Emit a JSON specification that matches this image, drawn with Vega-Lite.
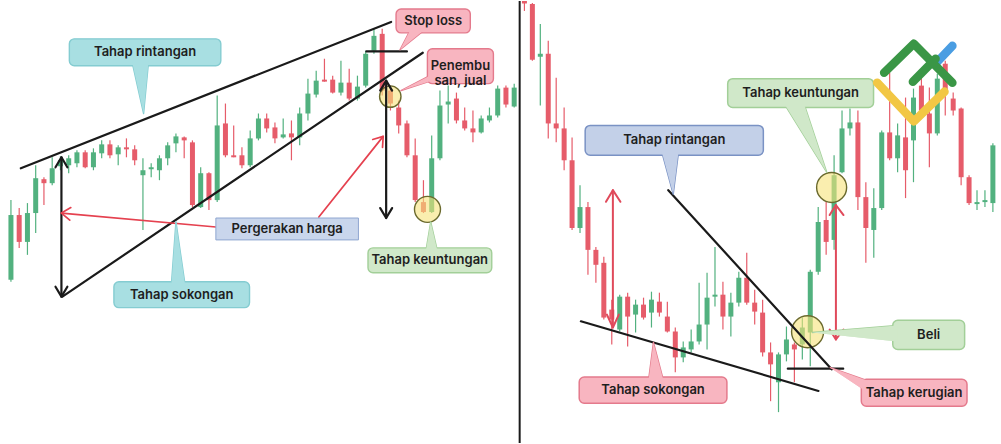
{
  "$schema": "https://vega.github.io/schema/vega-lite/v6.json",
  "width": 1001,
  "height": 444,
  "autosize": {"type": "fit", "contains": "padding"},
  "padding": 0,
  "background": "white",
  "config": {"view": {"stroke": null}, "font": "Inter"},
  "datasets": {
    "L_candles": [
      {"t":0,"open":164,"high":244,"low":162,"close":229},
      {"t":1,"open":229,"high":236,"low":196,"close":202},
      {"t":2,"open":202,"high":241,"low":189,"close":231},
      {"t":3,"open":231,"high":279,"low":211,"close":266},
      {"t":4,"open":265,"high":267,"low":239,"close":261},
      {"t":5,"open":261,"high":287,"low":259,"close":276},
      {"t":6,"open":278,"high":288,"low":274,"close":284},
      {"t":7,"open":279,"high":289,"low":271,"close":286},
      {"t":8,"open":281,"high":294,"low":277,"close":292},
      {"t":9,"open":292,"high":294,"low":276,"close":277},
      {"t":10,"open":277,"high":296,"low":274,"close":292},
      {"t":11,"open":291,"high":304,"low":286,"close":300},
      {"t":12,"open":300,"high":304,"low":286,"close":289},
      {"t":13,"open":290,"high":299,"low":279,"close":297},
      {"t":14,"open":297,"high":306,"low":287,"close":295},
      {"t":15,"open":295,"high":299,"low":279,"close":284},
      {"t":16,"open":269,"high":286,"low":214,"close":274},
      {"t":17,"open":275,"high":281,"low":267,"close":277},
      {"t":18,"open":274,"high":289,"low":264,"close":286},
      {"t":19,"open":286,"high":302,"low":279,"close":299},
      {"t":20,"open":301,"high":311,"low":292,"close":308},
      {"t":21,"open":307,"high":308,"low":286,"close":304},
      {"t":22,"open":302,"high":304,"low":237,"close":239},
      {"t":23,"open":237,"high":277,"low":236,"close":271},
      {"t":24,"open":271,"high":272,"low":234,"close":244},
      {"t":25,"open":244,"high":349,"low":242,"close":319},
      {"t":26,"open":321,"high":341,"low":287,"close":289},
      {"t":27,"open":289,"high":319,"low":287,"close":287},
      {"t":28,"open":289,"high":297,"low":276,"close":279},
      {"t":29,"open":279,"high":314,"low":277,"close":306},
      {"t":30,"open":306,"high":331,"low":304,"close":326},
      {"t":31,"open":326,"high":331,"low":312,"close":316},
      {"t":32,"open":317,"high":322,"low":301,"close":306},
      {"t":33,"open":307,"high":326,"low":306,"close":310},
      {"t":34,"open":311,"high":324,"low":284,"close":307},
      {"t":35,"open":307,"high":337,"low":299,"close":331},
      {"t":36,"open":331,"high":366,"low":324,"close":351},
      {"t":37,"open":350,"high":374,"low":347,"close":364},
      {"t":38,"open":365,"high":386,"low":363,"close":363},
      {"t":39,"open":365,"high":369,"low":351,"close":352},
      {"t":40,"open":352,"high":384,"low":349,"close":362},
      {"t":41,"open":362,"high":376,"low":344,"close":346},
      {"t":42,"open":346,"high":369,"low":344,"close":358},
      {"t":43,"open":359,"high":394,"low":357,"close":391},
      {"t":44,"open":394,"high":417,"low":391,"close":409},
      {"t":45,"open":411,"high":416,"low":349,"close":354},
      {"t":46,"open":354,"high":359,"low":334,"close":341},
      {"t":47,"open":337,"high":344,"low":311,"close":319},
      {"t":48,"open":321,"high":324,"low":287,"close":289},
      {"t":49,"open":289,"high":306,"low":242,"close":244},
      {"t":50,"open":242,"high":264,"low":231,"close":232},
      {"t":51,"open":232,"high":309,"low":231,"close":286},
      {"t":52,"open":286,"high":354,"low":284,"close":339},
      {"t":53,"open":340,"high":359,"low":321,"close":343},
      {"t":54,"open":346,"high":352,"low":321,"close":324},
      {"t":55,"open":324,"high":337,"low":314,"close":316},
      {"t":56,"open":316,"high":334,"low":302,"close":312},
      {"t":57,"open":312,"high":329,"low":311,"close":326},
      {"t":58,"open":324,"high":337,"low":322,"close":329},
      {"t":59,"open":329,"high":359,"low":327,"close":356},
      {"t":60,"open":357,"high":359,"low":337,"close":340},
      {"t":61,"open":338,"high":361,"low":337,"close":357}
    ],
    "R_candles": [
      {"t":-1,"open":444,"high":444,"low":434,"close":441.5},
      {"t":0,"open":441,"high":442,"low":384,"close":385},
      {"t":1,"open":388,"high":421,"low":339,"close":391},
      {"t":2,"open":391,"high":404,"low":306,"close":321},
      {"t":3,"open":321,"high":367,"low":302,"close":316},
      {"t":4,"open":316,"high":337,"low":274,"close":284},
      {"t":5,"open":284,"high":307,"low":214,"close":216},
      {"t":6,"open":216,"high":259,"low":211,"close":237},
      {"t":7,"open":237,"high":242,"low":169,"close":194},
      {"t":8,"open":194,"high":197,"low":161,"close":179},
      {"t":9,"open":181,"high":187,"low":124,"close":126},
      {"t":10,"open":134,"high":144,"low":99,"close":124},
      {"t":11,"open":114,"high":149,"low":112,"close":147},
      {"t":12,"open":147,"high":151,"low":97,"close":127},
      {"t":13,"open":129,"high":144,"low":111,"close":139},
      {"t":14,"open":139,"high":146,"low":124,"close":126},
      {"t":15,"open":131,"high":152,"low":116,"close":144},
      {"t":16,"open":142,"high":151,"low":127,"close":131},
      {"t":17,"open":127,"high":142,"low":111,"close":112},
      {"t":18,"open":112,"high":116,"low":71,"close":86},
      {"t":19,"open":86,"high":102,"low":81,"close":96},
      {"t":20,"open":94,"high":114,"low":91,"close":102},
      {"t":21,"open":102,"high":161,"low":99,"close":119},
      {"t":22,"open":119,"high":171,"low":94,"close":146},
      {"t":23,"open":147,"high":197,"low":137,"close":149},
      {"t":24,"open":149,"high":162,"low":114,"close":127},
      {"t":25,"open":127,"high":151,"low":107,"close":141},
      {"t":26,"open":141,"high":172,"low":137,"close":166},
      {"t":27,"open":166,"high":191,"low":139,"close":141},
      {"t":28,"open":141,"high":154,"low":119,"close":132},
      {"t":29,"open":131,"high":144,"low":87,"close":91},
      {"t":30,"open":91,"high":101,"low":42,"close":79},
      {"t":31,"open":61,"high":91,"low":31,"close":89},
      {"t":32,"open":89,"high":117,"low":82,"close":104},
      {"t":33,"open":99,"high":101,"low":61,"close":94},
      {"t":34,"open":99,"high":126,"low":84,"close":116},
      {"t":35,"open":111,"high":174,"low":77,"close":172},
      {"t":36,"open":172,"high":237,"low":169,"close":222},
      {"t":37,"open":224,"high":242,"low":189,"close":202},
      {"t":38,"open":204,"high":289,"low":194,"close":269},
      {"t":39,"open":272,"high":334,"low":271,"close":316},
      {"t":40,"open":316,"high":336,"low":309,"close":322},
      {"t":41,"open":322,"high":334,"low":234,"close":247},
      {"t":42,"open":247,"high":262,"low":181,"close":216},
      {"t":43,"open":214,"high":256,"low":186,"close":236},
      {"t":44,"open":236,"high":314,"low":234,"close":312},
      {"t":45,"open":312,"high":372,"low":284,"close":286},
      {"t":46,"open":286,"high":321,"low":272,"close":309},
      {"t":47,"open":307,"high":347,"low":246,"close":274},
      {"t":48,"open":304,"high":356,"low":262,"close":347},
      {"t":49,"open":359,"high":374,"low":330,"close":334},
      {"t":50,"open":331,"high":357,"low":277,"close":311},
      {"t":51,"open":311,"high":371,"low":309,"close":366},
      {"t":52,"open":381,"high":384,"low":329,"close":354},
      {"t":53,"open":346,"high":352,"low":329,"close":334},
      {"t":54,"open":336,"high":337,"low":259,"close":267},
      {"t":55,"open":267,"high":269,"low":239,"close":241},
      {"t":56,"open":240,"high":254,"low":234,"close":242},
      {"t":57,"open":242,"high":254,"low":237,"close":244},
      {"t":58,"open":241,"high":301,"low":232,"close":299}
    ],
    "L_black": [
      {"id":"res","seq":0,"t":1.2,"price":276},{"id":"res","seq":1,"t":46.08,"price":423},
      {"id":"sup","seq":0,"t":6.24,"price":147},{"id":"sup","seq":1,"t":49.92,"price":392},
      {"id":"stop","seq":0,"t":43.08,"price":393.3},{"id":"stop","seq":1,"t":48,"price":393.3},
      {"id":"a1","seq":0,"t":6.12,"price":287},{"id":"a1","seq":1,"t":6.12,"price":147},
      {"id":"a1t","seq":0,"t":5.4,"price":277},{"id":"a1t","seq":1,"t":6.12,"price":287},{"id":"a1t","seq":2,"t":6.84,"price":277},
      {"id":"a1b","seq":0,"t":5.4,"price":157},{"id":"a1b","seq":1,"t":6.12,"price":147},{"id":"a1b","seq":2,"t":6.84,"price":157},
      {"id":"a2","seq":0,"t":45.48,"price":364},{"id":"a2","seq":1,"t":45.48,"price":226},
      {"id":"a2t","seq":0,"t":44.76,"price":354},{"id":"a2t","seq":1,"t":45.48,"price":364},{"id":"a2t","seq":2,"t":46.2,"price":354},
      {"id":"a2b","seq":0,"t":44.76,"price":236},{"id":"a2b","seq":1,"t":45.48,"price":226},{"id":"a2b","seq":2,"t":46.2,"price":236}
    ],
    "L_red": [
      {"id":"r1","seq":0,"t":24.84,"price":217},{"id":"r1","seq":1,"t":6.12,"price":231},
      {"id":"r1h","seq":0,"t":7.13,"price":223.9},{"id":"r1h","seq":1,"t":6.12,"price":231},{"id":"r1h","seq":2,"t":7.26,"price":236.5},
      {"id":"r2","seq":0,"t":37.32,"price":227},{"id":"r2","seq":1,"t":45.12,"price":308},
      {"id":"r2h","seq":0,"t":43.85,"price":304.9},{"id":"r2h","seq":1,"t":45.12,"price":308},{"id":"r2h","seq":2,"t":45.04,"price":297}
    ],
    "L_boxes": [
      {"kind":"teal","t":7.08,"t2":25.44,"price":379,"price2":406},
      {"kind":"teal","t":12.48,"t2":28.92,"price":136,"price2":162},
      {"kind":"lblue","t":24.84,"t2":42.12,"price":204,"price2":226},
      {"kind":"pink","t":46.68,"t2":55.68,"price":412,"price2":436},
      {"kind":"pink","t":50.48,"t2":58.48,"price":361,"price2":396},
      {"kind":"green","t":43.28,"t2":58.28,"price":171,"price2":196}
    ],
    "L_tails": [
      {"id":"rint","kind":"teal","seq":0,"t":14.68,"price":383},{"id":"rint","kind":"teal","seq":1,"t":16.08,"price":331},{"id":"rint","kind":"teal","seq":2,"t":16.68,"price":383},
      {"id":"sok","kind":"teal","seq":0,"t":19.44,"price":158},{"id":"sok","kind":"teal","seq":1,"t":20.0,"price":222.3},{"id":"sok","kind":"teal","seq":2,"t":21.12,"price":158},
      {"id":"stop","kind":"pink","seq":0,"t":48.48,"price":416},{"id":"stop","kind":"pink","seq":1,"t":47.16,"price":395},{"id":"stop","kind":"pink","seq":2,"t":50.28,"price":416},
      {"id":"pen","kind":"pink","seq":0,"t":51.0,"price":370},{"id":"pen","kind":"pink","seq":1,"t":47.28,"price":354},{"id":"pen","kind":"pink","seq":2,"t":51.0,"price":364},
      {"id":"keu","kind":"green","seq":0,"t":50.28,"price":192},{"id":"keu","kind":"green","seq":1,"t":50.88,"price":222},{"id":"keu","kind":"green","seq":2,"t":51.72,"price":192}
    ],
    "L_texts": [
      {"label":"Tahap rintangan","t":16.26,"price":392.5},
      {"label":"Tahap sokongan","t":20.7,"price":149},
      {"label":"Pergerakan harga","t":33.48,"price":215},
      {"label":"Stop loss","t":51.18,"price":424},
      {"label":"Penembu\nsan, jual","t":54.48,"price":378.5},
      {"label":"Tahap keuntungan","t":50.76,"price":183.5}
    ],
    "L_rings": [
      {"id":"a","t":45.98,"price":348},
      {"id":"b","t":50.49,"price":234.7}
    ],
    "R_divider": [{"t":-1.6}],
    "R_black": [
      {"id":"res","seq":0,"t":17.12,"price":254},{"id":"res","seq":1,"t":37.69,"price":74},
      {"id":"sup","seq":0,"t":6.11,"price":122.3},{"id":"sup","seq":1,"t":36.03,"price":52.3},
      {"id":"ker","seq":0,"t":32.17,"price":74.7},{"id":"ker","seq":1,"t":39.15,"price":74.7}
    ],
    "R_red": [
      {"id":"A","seq":0,"t":10.14,"price":254},{"id":"A","seq":1,"t":10.14,"price":116},
      {"id":"At","seq":0,"t":9.27,"price":242.3},{"id":"At","seq":1,"t":10.14,"price":254},{"id":"At","seq":2,"t":11.09,"price":242.3},
      {"id":"Ab","seq":0,"t":9.39,"price":129},{"id":"Ab","seq":1,"t":10.14,"price":116},{"id":"Ab","seq":2,"t":10.89,"price":129},
      {"id":"B","seq":0,"t":38.23,"price":239},{"id":"B","seq":1,"t":38.23,"price":104},
      {"id":"Bt","seq":0,"t":37.44,"price":229},{"id":"Bt","seq":1,"t":38.23,"price":239},{"id":"Bt","seq":2,"t":39.19,"price":229},
      {"id":"Bb","seq":0,"t":37.44,"price":114},{"id":"Bb","seq":1,"t":38.23,"price":104},{"id":"Bb","seq":2,"t":39.19,"price":114}
    ],
    "R_boxes": [
      {"kind":"blue","t":6.65,"t2":29.09,"price":289,"price2":319},
      {"kind":"pink","t":5.9,"t2":24.5,"price":40,"price2":66.3},
      {"kind":"pink","t":41.43,"t2":54.74,"price":37,"price2":64},
      {"kind":"green","t":45.39,"t2":54.44,"price":94,"price2":123.3},
      {"kind":"green","t":24.6,"t2":42.97,"price":337,"price2":366}
    ],
    "R_tails": [
      {"id":"rint","kind":"blue","seq":0,"t":16.28,"price":293},{"id":"rint","kind":"blue","seq":1,"t":17.74,"price":250},{"id":"rint","kind":"blue","seq":2,"t":18.42,"price":293},
      {"id":"sok","kind":"pink","seq":0,"t":14.63,"price":63},{"id":"sok","kind":"pink","seq":1,"t":15.25,"price":101},{"id":"sok","kind":"pink","seq":2,"t":16.5,"price":63},
      {"id":"ker","kind":"pink","seq":0,"t":37.44,"price":76},{"id":"ker","kind":"pink","seq":1,"t":43.1,"price":60},{"id":"ker","kind":"pink","seq":2,"t":41.98,"price":52},
      {"id":"beli","kind":"green","seq":0,"t":35.22,"price":111},{"id":"beli","kind":"green","seq":1,"t":45.94,"price":118},{"id":"beli","kind":"green","seq":2,"t":45.94,"price":102},
      {"id":"keu","kind":"green","seq":0,"t":31.71,"price":341},{"id":"keu","kind":"green","seq":1,"t":37.07,"price":272},{"id":"keu","kind":"green","seq":2,"t":34.2,"price":341}
    ],
    "R_texts": [
      {"label":"Tahap rintangan","t":17.87,"price":304},
      {"label":"Tahap sokongan","t":15.2,"price":53},
      {"label":"Tahap kerugian","t":48.08,"price":50.5},
      {"label":"Beli","t":49.91,"price":108.7},
      {"label":"Tahap keuntungan","t":33.79,"price":351.5}
    ],
    "R_rings": [
      {"id":"c","t":37.69,"price":256.7},
      {"id":"d","t":34.66,"price":111.7}
    ],
    "R_logo": [
      {"id":"y","kind":"yellow","seq":0,"t":43.43,"price":362},{"id":"y","kind":"yellow","seq":1,"t":48.04,"price":323},{"id":"y","kind":"yellow","seq":2,"t":51.91,"price":353},
      {"id":"b","kind":"blue","seq":0,"t":51.03,"price":383},{"id":"b","kind":"blue","seq":1,"t":52.9,"price":399},
      {"id":"g1","kind":"green","seq":0,"t":44.3,"price":372},{"id":"g1","kind":"green","seq":1,"t":48.04,"price":401},{"id":"g1","kind":"green","seq":2,"t":52.9,"price":362},
      {"id":"g2","kind":"green","seq":0,"t":47.92,"price":363},{"id":"g2","kind":"green","seq":1,"t":50.78,"price":386}
    ]
  },
  "layer": [
    {
      "layer": [
        {
          "data": {"name": "L_candles"},
          "mark": {"type": "rule", "strokeWidth": 1.2},
          "encoding": {
            "x": {"field": "t", "type": "quantitative", "scale": {"domain": [-0.72, 119.4], "nice": false, "zero": false}, "axis": null},
            "y": {"field": "low", "type": "quantitative", "scale": {"domain": [0, 444], "nice": false, "zero": false}, "axis": null},
            "y2": {"field": "high"},
            "color": {"condition": {"test": "datum.close >= datum.open", "value": "#52b17f"}, "value": "#e65c6a"}
          }
        },
        {
          "data": {"name": "L_candles"},
          "mark": {"type": "bar", "size": 5},
          "encoding": {
            "x": {"field": "t", "type": "quantitative", "scale": {"domain": [-0.72, 119.4], "nice": false, "zero": false}, "axis": null},
            "y": {"field": "open", "type": "quantitative", "scale": {"domain": [0, 444], "nice": false, "zero": false}, "axis": null},
            "y2": {"field": "close"},
            "color": {"condition": {"test": "datum.close >= datum.open", "value": "#52b17f"}, "value": "#e65c6a"}
          }
        },
        {
          "data": {"name": "L_rings"},
          "mark": {"type": "point", "shape": "circle", "filled": true, "fill": "#f6e27a", "fillOpacity": 0.6, "stroke": "#6b6a2e", "strokeWidth": 1.4, "strokeOpacity": 1, "opacity": 1},
          "encoding": {
            "x": {"field": "t", "type": "quantitative", "scale": {"domain": [-0.72, 119.4], "nice": false, "zero": false}, "axis": null},
            "y": {"field": "price", "type": "quantitative", "scale": {"domain": [0, 444], "nice": false, "zero": false}, "axis": null},
            "size": {"field": "id", "type": "ordinal", "scale": {"domain": ["a", "b"], "range": [458, 676]}, "legend": null}
          }
        },
        {
          "data": {"name": "L_black"},
          "mark": {"type": "line", "stroke": "#1a1a1a", "strokeWidth": 2.2, "strokeCap": "round", "strokeJoin": "round"},
          "encoding": {
            "x": {"field": "t", "type": "quantitative", "scale": {"domain": [-0.72, 119.4], "nice": false, "zero": false}, "axis": null},
            "y": {"field": "price", "type": "quantitative", "scale": {"domain": [0, 444], "nice": false, "zero": false}, "axis": null},
            "detail": {"field": "id", "type": "nominal"},
            "order": {"field": "seq", "type": "quantitative"}
          }
        },
        {
          "data": {"name": "L_red"},
          "mark": {"type": "line", "stroke": "#e5414f", "strokeWidth": 1.7, "strokeCap": "round", "strokeJoin": "round"},
          "encoding": {
            "x": {"field": "t", "type": "quantitative", "scale": {"domain": [-0.72, 119.4], "nice": false, "zero": false}, "axis": null},
            "y": {"field": "price", "type": "quantitative", "scale": {"domain": [0, 444], "nice": false, "zero": false}, "axis": null},
            "detail": {"field": "id", "type": "nominal"},
            "order": {"field": "seq", "type": "quantitative"}
          }
        },
        {
          "data": {"name": "L_tails"},
          "mark": {"type": "line", "strokeWidth": 1.4, "strokeJoin": "round", "fillOpacity": 1},
          "encoding": {
            "x": {"field": "t", "type": "quantitative", "scale": {"domain": [-0.72, 119.4], "nice": false, "zero": false}, "axis": null},
            "y": {"field": "price", "type": "quantitative", "scale": {"domain": [0, 444], "nice": false, "zero": false}, "axis": null},
            "detail": {"field": "id", "type": "nominal"},
            "order": {"field": "seq", "type": "quantitative"},
            "fill": {"field": "kind", "type": "nominal", "scale": {"domain": ["teal", "lblue", "blue", "pink", "green"], "range": ["#a8dfe2", "#c9d6ec", "#c3d0e8", "#f8b5c0", "#d0e8c9"]}, "legend": null},
            "stroke": {"field": "kind", "type": "nominal", "scale": {"domain": ["teal", "lblue", "blue", "pink", "green"], "range": ["#84ccd1", "#8fa6d0", "#7a92c4", "#e47a8c", "#a2cf98"]}, "legend": null}
          }
        },
        {
          "data": {"name": "L_boxes"},
          "transform": [{"filter": "datum.kind !== 'lblue'"}],
          "mark": {"type": "rect", "cornerRadius": 5, "strokeWidth": 1.4},
          "encoding": {
            "x": {"field": "t", "type": "quantitative", "scale": {"domain": [-0.72, 119.4], "nice": false, "zero": false}, "axis": null},
            "x2": {"field": "t2"},
            "y": {"field": "price", "type": "quantitative", "scale": {"domain": [0, 444], "nice": false, "zero": false}, "axis": null},
            "y2": {"field": "price2"},
            "fill": {"field": "kind", "type": "nominal", "scale": {"domain": ["teal", "lblue", "blue", "pink", "green"], "range": ["#a8dfe2", "#c9d6ec", "#c3d0e8", "#f8b5c0", "#d0e8c9"]}, "legend": null},
            "stroke": {"field": "kind", "type": "nominal", "scale": {"domain": ["teal", "lblue", "blue", "pink", "green"], "range": ["#84ccd1", "#8fa6d0", "#7a92c4", "#e47a8c", "#a2cf98"]}, "legend": null}
          }
        },
        {
          "data": {"name": "L_boxes"},
          "transform": [{"filter": "datum.kind === 'lblue'"}],
          "mark": {"type": "rect", "cornerRadius": 0, "strokeWidth": 1},
          "encoding": {
            "x": {"field": "t", "type": "quantitative", "scale": {"domain": [-0.72, 119.4], "nice": false, "zero": false}, "axis": null},
            "x2": {"field": "t2"},
            "y": {"field": "price", "type": "quantitative", "scale": {"domain": [0, 444], "nice": false, "zero": false}, "axis": null},
            "y2": {"field": "price2"},
            "fill": {"field": "kind", "type": "nominal", "scale": {"domain": ["teal", "lblue", "blue", "pink", "green"], "range": ["#a8dfe2", "#c9d6ec", "#c3d0e8", "#f8b5c0", "#d0e8c9"]}, "legend": null},
            "stroke": {"field": "kind", "type": "nominal", "scale": {"domain": ["teal", "lblue", "blue", "pink", "green"], "range": ["#84ccd1", "#8fa6d0", "#7a92c4", "#e47a8c", "#a2cf98"]}, "legend": null}
          }
        },
        {
          "data": {"name": "L_tails"},
          "mark": {"type": "line", "stroke": "transparent", "strokeWidth": 0, "fillOpacity": 1},
          "encoding": {
            "x": {"field": "t", "type": "quantitative", "scale": {"domain": [-0.72, 119.4], "nice": false, "zero": false}, "axis": null},
            "y": {"field": "price", "type": "quantitative", "scale": {"domain": [0, 444], "nice": false, "zero": false}, "axis": null},
            "detail": {"field": "id", "type": "nominal"},
            "order": {"field": "seq", "type": "quantitative"},
            "fill": {"field": "kind", "type": "nominal", "scale": {"domain": ["teal", "lblue", "blue", "pink", "green"], "range": ["#a8dfe2", "#c9d6ec", "#c3d0e8", "#f8b5c0", "#d0e8c9"]}, "legend": null}
          }
        },
        {
          "data": {"name": "L_texts"},
          "mark": {"type": "text", "font": "Inter", "fontSize": 13, "fontWeight": 600, "color": "#1e1e1e", "align": "center", "baseline": "middle", "lineBreak": "\n", "lineHeight": 15},
          "encoding": {
            "x": {"field": "t", "type": "quantitative", "scale": {"domain": [-0.72, 119.4], "nice": false, "zero": false}, "axis": null},
            "y": {"field": "price", "type": "quantitative", "scale": {"domain": [0, 444], "nice": false, "zero": false}, "axis": null},
            "text": {"field": "label", "type": "nominal"}
          }
        }
      ]
    },
    {
      "layer": [
        {
          "data": {"name": "R_candles"},
          "mark": {"type": "rule", "strokeWidth": 1.2},
          "encoding": {
            "x": {"field": "t", "type": "quantitative", "scale": {"domain": [-66.42, 58.392], "nice": false, "zero": false}, "axis": null},
            "y": {"field": "low", "type": "quantitative", "scale": {"domain": [0, 444], "nice": false, "zero": false}, "axis": null},
            "y2": {"field": "high"},
            "color": {"condition": {"test": "datum.close >= datum.open", "value": "#52b17f"}, "value": "#e65c6a"}
          }
        },
        {
          "data": {"name": "R_candles"},
          "mark": {"type": "bar", "size": 5},
          "encoding": {
            "x": {"field": "t", "type": "quantitative", "scale": {"domain": [-66.42, 58.392], "nice": false, "zero": false}, "axis": null},
            "y": {"field": "open", "type": "quantitative", "scale": {"domain": [0, 444], "nice": false, "zero": false}, "axis": null},
            "y2": {"field": "close"},
            "color": {"condition": {"test": "datum.close >= datum.open", "value": "#52b17f"}, "value": "#e65c6a"}
          }
        },
        {
          "data": {"name": "R_rings"},
          "mark": {"type": "point", "shape": "circle", "filled": true, "fill": "#f6e27a", "fillOpacity": 0.6, "stroke": "#6b6a2e", "strokeWidth": 1.4, "strokeOpacity": 1, "opacity": 1},
          "encoding": {
            "x": {"field": "t", "type": "quantitative", "scale": {"domain": [-66.42, 58.392], "nice": false, "zero": false}, "axis": null},
            "y": {"field": "price", "type": "quantitative", "scale": {"domain": [0, 444], "nice": false, "zero": false}, "axis": null},
            "size": {"field": "id", "type": "ordinal", "scale": {"domain": ["c", "d"], "range": [900, 1024]}, "legend": null}
          }
        },
        {
          "data": {"name": "R_black"},
          "mark": {"type": "line", "stroke": "#1a1a1a", "strokeWidth": 2.2, "strokeCap": "round", "strokeJoin": "round"},
          "encoding": {
            "x": {"field": "t", "type": "quantitative", "scale": {"domain": [-66.42, 58.392], "nice": false, "zero": false}, "axis": null},
            "y": {"field": "price", "type": "quantitative", "scale": {"domain": [0, 444], "nice": false, "zero": false}, "axis": null},
            "detail": {"field": "id", "type": "nominal"},
            "order": {"field": "seq", "type": "quantitative"}
          }
        },
        {
          "data": {"name": "R_red"},
          "mark": {"type": "line", "stroke": "#e04a5b", "strokeWidth": 2, "strokeCap": "round", "strokeJoin": "round"},
          "encoding": {
            "x": {"field": "t", "type": "quantitative", "scale": {"domain": [-66.42, 58.392], "nice": false, "zero": false}, "axis": null},
            "y": {"field": "price", "type": "quantitative", "scale": {"domain": [0, 444], "nice": false, "zero": false}, "axis": null},
            "detail": {"field": "id", "type": "nominal"},
            "order": {"field": "seq", "type": "quantitative"}
          }
        },
        {
          "data": {"name": "R_tails"},
          "mark": {"type": "line", "strokeWidth": 1.4, "strokeJoin": "round", "fillOpacity": 1},
          "encoding": {
            "x": {"field": "t", "type": "quantitative", "scale": {"domain": [-66.42, 58.392], "nice": false, "zero": false}, "axis": null},
            "y": {"field": "price", "type": "quantitative", "scale": {"domain": [0, 444], "nice": false, "zero": false}, "axis": null},
            "detail": {"field": "id", "type": "nominal"},
            "order": {"field": "seq", "type": "quantitative"},
            "fill": {"field": "kind", "type": "nominal", "scale": {"domain": ["teal", "lblue", "blue", "pink", "green"], "range": ["#a8dfe2", "#c9d6ec", "#c3d0e8", "#f8b5c0", "#d0e8c9"]}, "legend": null},
            "stroke": {"field": "kind", "type": "nominal", "scale": {"domain": ["teal", "lblue", "blue", "pink", "green"], "range": ["#84ccd1", "#8fa6d0", "#7a92c4", "#e47a8c", "#a2cf98"]}, "legend": null}
          }
        },
        {
          "data": {"name": "R_boxes"},
          "mark": {"type": "rect", "cornerRadius": 5, "strokeWidth": 1.5},
          "encoding": {
            "x": {"field": "t", "type": "quantitative", "scale": {"domain": [-66.42, 58.392], "nice": false, "zero": false}, "axis": null},
            "x2": {"field": "t2"},
            "y": {"field": "price", "type": "quantitative", "scale": {"domain": [0, 444], "nice": false, "zero": false}, "axis": null},
            "y2": {"field": "price2"},
            "fill": {"field": "kind", "type": "nominal", "scale": {"domain": ["teal", "lblue", "blue", "pink", "green"], "range": ["#a8dfe2", "#c9d6ec", "#c3d0e8", "#f8b5c0", "#d0e8c9"]}, "legend": null},
            "stroke": {"field": "kind", "type": "nominal", "scale": {"domain": ["teal", "lblue", "blue", "pink", "green"], "range": ["#84ccd1", "#8fa6d0", "#7a92c4", "#e47a8c", "#a2cf98"]}, "legend": null}
          }
        },
        {
          "data": {"name": "R_tails"},
          "mark": {"type": "line", "stroke": "transparent", "strokeWidth": 0, "fillOpacity": 1},
          "encoding": {
            "x": {"field": "t", "type": "quantitative", "scale": {"domain": [-66.42, 58.392], "nice": false, "zero": false}, "axis": null},
            "y": {"field": "price", "type": "quantitative", "scale": {"domain": [0, 444], "nice": false, "zero": false}, "axis": null},
            "detail": {"field": "id", "type": "nominal"},
            "order": {"field": "seq", "type": "quantitative"},
            "fill": {"field": "kind", "type": "nominal", "scale": {"domain": ["teal", "lblue", "blue", "pink", "green"], "range": ["#a8dfe2", "#c9d6ec", "#c3d0e8", "#f8b5c0", "#d0e8c9"]}, "legend": null}
          }
        },
        {
          "data": {"name": "R_texts"},
          "mark": {"type": "text", "font": "Inter", "fontSize": 13, "fontWeight": 600, "color": "#1e1e1e", "align": "center", "baseline": "middle"},
          "encoding": {
            "x": {"field": "t", "type": "quantitative", "scale": {"domain": [-66.42, 58.392], "nice": false, "zero": false}, "axis": null},
            "y": {"field": "price", "type": "quantitative", "scale": {"domain": [0, 444], "nice": false, "zero": false}, "axis": null},
            "text": {"field": "label", "type": "nominal"}
          }
        },
        {
          "data": {"name": "R_logo"},
          "transform": [{"filter": "datum.kind === 'yellow'"}],
          "mark": {"type": "line", "stroke": "#f2c744", "strokeWidth": 8.5, "strokeCap": "round", "strokeJoin": "round"},
          "encoding": {
            "x": {"field": "t", "type": "quantitative", "scale": {"domain": [-66.42, 58.392], "nice": false, "zero": false}, "axis": null},
            "y": {"field": "price", "type": "quantitative", "scale": {"domain": [0, 444], "nice": false, "zero": false}, "axis": null},
            "detail": {"field": "id", "type": "nominal"},
            "order": {"field": "seq", "type": "quantitative"}
          }
        },
        {
          "data": {"name": "R_logo"},
          "transform": [{"filter": "datum.kind === 'blue'"}],
          "mark": {"type": "line", "stroke": "#4a9de2", "strokeWidth": 8.5, "strokeCap": "round", "strokeJoin": "round"},
          "encoding": {
            "x": {"field": "t", "type": "quantitative", "scale": {"domain": [-66.42, 58.392], "nice": false, "zero": false}, "axis": null},
            "y": {"field": "price", "type": "quantitative", "scale": {"domain": [0, 444], "nice": false, "zero": false}, "axis": null},
            "detail": {"field": "id", "type": "nominal"},
            "order": {"field": "seq", "type": "quantitative"}
          }
        },
        {
          "data": {"name": "R_logo"},
          "transform": [{"filter": "datum.kind === 'green'"}],
          "mark": {"type": "line", "stroke": "#3a9646", "strokeWidth": 8.5, "strokeCap": "round", "strokeJoin": "round"},
          "encoding": {
            "x": {"field": "t", "type": "quantitative", "scale": {"domain": [-66.42, 58.392], "nice": false, "zero": false}, "axis": null},
            "y": {"field": "price", "type": "quantitative", "scale": {"domain": [0, 444], "nice": false, "zero": false}, "axis": null},
            "detail": {"field": "id", "type": "nominal"},
            "order": {"field": "seq", "type": "quantitative"}
          }
        },
        {
          "data": {"name": "R_divider"},
          "mark": {"type": "rule", "stroke": "#1a1a1a", "strokeWidth": 2},
          "encoding": {
            "x": {"field": "t", "type": "quantitative", "scale": {"domain": [-66.42, 58.392], "nice": false, "zero": false}, "axis": null}
          }
        }
      ]
    }
  ],
  "resolve": {"scale": {"x": "independent", "y": "independent", "size": "independent"}}
}
